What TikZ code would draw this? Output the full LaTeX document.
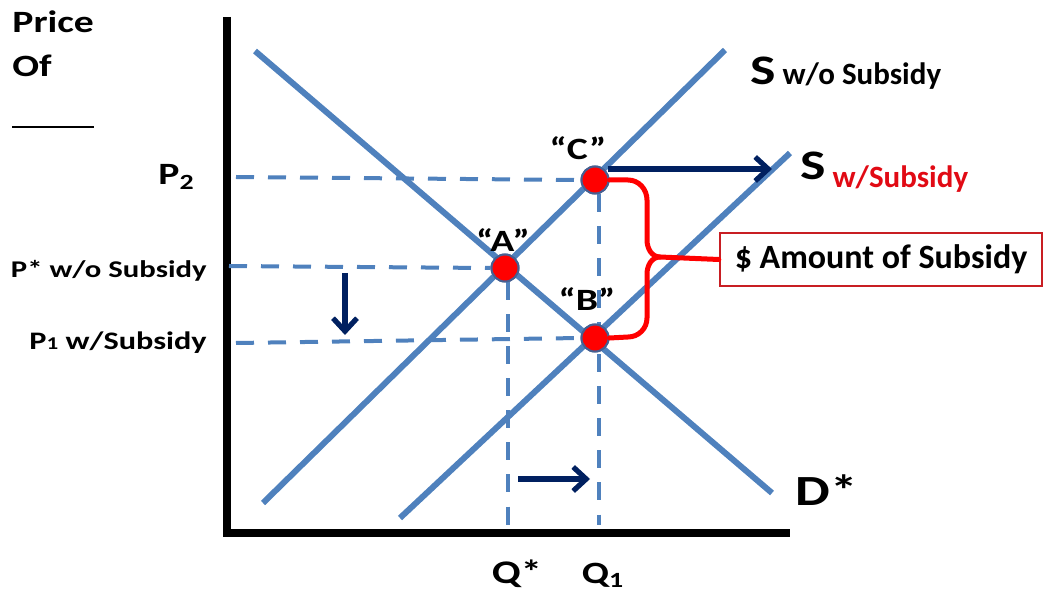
\documentclass[tikz,border=0pt]{standalone}
\usepackage{fontspec}
\setmainfont{Carlito}
\newfontfamily\widefont{Carlito}[FakeStretch=1.28]
\usetikzlibrary{positioning, arrows.meta}
\definecolor{curveblue}{RGB}{79,129,189}
\definecolor{navy}{RGB}{0,32,96}
\definecolor{dotrim}{RGB}{70,95,145}
\definecolor{subred}{RGB}{225,10,20}
\definecolor{boxred}{RGB}{200,30,35}

\begin{document}
\begin{tikzpicture}[x=0.5pt, y=-0.5pt,
    axis/.style={line width=4pt, draw=black},
    curve/.style={line width=3pt, draw=curveblue},
    guide/.style={line width=2pt, draw=curveblue, dash pattern=on 9pt off 7pt},
    shiftarr/.style={line width=2.6pt, draw=navy, -{Straight Barb[length=6.5pt, width=12pt]}},
    eqdot/.style={circle, fill=red, draw=dotrim, line width=1pt, minimum size=13.5pt, inner sep=0pt},
    ptlbl/.style={font=\fontsize{15.5}{16}\selectfont\widefont\bfseries, inner sep=0pt},
    axlbl/.style={font=\fontsize{12.6}{14}\selectfont\widefont\bfseries, inner sep=0pt},
    bigS/.style={font=\fontsize{21}{22}\selectfont\widefont\bfseries, inner sep=0pt},
    sublbl/.style={font=\fontsize{15.5}{16}\selectfont\bfseries, inner sep=0pt},
    brace/.style={line width=2.5pt, draw=red, line cap=round, line join=round},
    callout/.style={draw=boxred, line width=1.2pt, fill=white, font=\fontsize{17}{18}\selectfont\bfseries,
                    minimum width=161pt, minimum height=26.5pt, inner sep=0pt}
  ]
  \useasboundingbox (0,0) rectangle (1056,593);
  % ---------------- axes ----------------
  \coordinate (top) at (227,17);
  \coordinate (orig) at (227,533);
  \coordinate (xend) at (790,533);
  \draw[axis] (top) -- (orig) -- (xend);
  \node[ptlbl, anchor=base west] (price) at (12,33) {Price};
  \node[ptlbl, anchor=base west] (of) at (12,77) {Of};
  \node[anchor=west, inner sep=0pt] (blank) at (12,127) {\rule{41pt}{1.1pt}};

  % ---------------- equilibrium points ----------------
  \node[eqdot] (A) at (505,268) {};
  \node[eqdot] (B) at (595,338) {};
  \node[eqdot] (C) at (595,180) {};
  \coordinate (qa) at (508,525);
  \coordinate (qb) at (599,525);
  \coordinate (pa) at (236,177);
  \coordinate (pb) at (229,266);
  \coordinate (pc) at (236,343);

  % ---------------- guides ----------------
  \draw[guide] (pa) -- (C.west);
  \draw[guide] (pb) -- (A.west);
  \draw[guide] (pc) -- (B.west);
  \draw[guide] (A.south -| qa) -- (qa);
  \draw[guide] (C.south -| qb) -- (qb);

  % ---------------- curves ----------------
  \draw[curve] (255,51) -- (772,493);
  \draw[curve] (263,503) -- (725,50);
  \draw[curve] (400,518) -- (790,153);
  \node[eqdot] at (A) {};
  \node[eqdot] at (B) {};
  \node[eqdot] at (C) {};

  % ---------------- labels ----------------
  \node[ptlbl] (la) at (503,240) {“A”};
  \node[ptlbl] (lb) at (587,299) {“B”};
  \node[ptlbl] (lc) at (578,148) {“C”};
  \node[bigS, anchor=base west] (s0) at (750,85) {S};
  \node[sublbl, right=3pt of s0.base east, anchor=base west] (s0t) {w/o Subsidy};
  \node[bigS, anchor=base west] (s1) at (800,180) {S};
  \node[sublbl, text=subred, right=3pt of s1.base east, anchor=base west, yshift=-4pt] (s1t) {w/Subsidy};
  \node[font=\fontsize{21.5}{22}\selectfont\widefont\bfseries, anchor=base west, inner sep=0pt] (dl) at (795,505) {D*};
  \node[font=\fontsize{16.5}{18}\selectfont\widefont\bfseries, anchor=base, inner sep=0pt] (qs) at (517,583) {Q*};
  \node[ptlbl, anchor=base] (q1) at (603,583) {Q\textsubscript{1}};
  \node[ptlbl, anchor=base east] (p2) at (195,185) {P\textsubscript{2}};
  \node[font=\fontsize{12}{14}\selectfont\widefont\bfseries, inner sep=0pt, anchor=base east] (pstar) at (207,278) {P* w/o Subsidy};
  \node[axlbl, anchor=base east] (p1) at (207,350) {P{\small 1} w/Subsidy};

  % ---------------- shifts ----------------
  \coordinate (r0) at (608,169);
  \coordinate (r1) at (772,169);
  \coordinate (d0) at (345,273);
  \coordinate (d1) at (345,335);
  \coordinate (h0) at (518,479);
  \coordinate (h1) at (590,479);
  \draw[shiftarr] (r0) -- (r1);
  \draw[shiftarr] (d0) -- (d1);
  \draw[shiftarr] (h0) -- (h1);

  % ---------------- subsidy brace ----------------
  \node[callout] (amt) at (881,259.5) {\$ Amount of Subsidy};
  \coordinate (tip) at (660,257);
  \draw[brace] (C.east) -- (628,180) to[out=0,in=90] (647,200) -- (647,240)
               to[out=-90,in=180] (tip) -- (amt.west);
  \draw[brace] (B.east) -- (628,337) to[out=0,in=-90] (647,318) -- (647,274)
               to[out=90,in=180] (tip);
\end{tikzpicture}
\end{document}
